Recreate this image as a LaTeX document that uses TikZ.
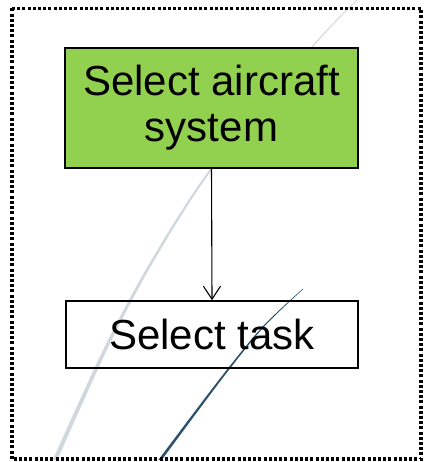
\documentclass[tikz,border=0pt]{standalone}
\usepackage{fontspec}
\setmainfont{Liberation Sans}
\usetikzlibrary{arrows.meta}
\definecolor{boxgreen}{RGB}{146,208,80}
\definecolor{swooshgray}{RGB}{208,216,220}
\definecolor{swooshblue}{RGB}{44,82,110}
\tikzset{
  stepbox/.style={draw=black, line width=1.5pt, align=center, inner sep=0pt,
    font=\fontsize{42}{46}\selectfont},
  flow/.style={-{Straight Barb[length=13pt,width=17pt]}, line width=1.1pt},
  frame/.style={draw=black, line width=3.2pt, dash pattern=on 3pt off 2.2pt}
}
\begin{document}
\begin{tikzpicture}[x=1pt, y=-1pt]
  \useasboundingbox (0,0) rectangle (423,462);

  % decorative tapered swooshes in the background
  \fill[swooshgray]
    plot[smooth] coordinates {(356.4,0) (311.2,47) (210.8,168) (148.5,265) (103.1,350) (52.7,460)}
    -- plot[smooth] coordinates {(57.3,460) (106.9,350) (151.5,265) (213.2,168) (312.8,47) (357.6,0)}
    -- cycle;
  \fill[swooshblue]
    plot[smooth] coordinates {(302.6,289) (262.2,327) (218.8,380) (158.3,460)}
    -- plot[smooth] coordinates {(161.7,460) (221.2,380) (263.8,327) (303.4,289)}
    -- cycle;

  % process steps
  \node[stepbox, fill=boxgreen, minimum width=293pt, minimum height=120pt]
    (sys) at (211.5,108) {Select aircraft\\system};
  \node[stepbox, minimum width=292pt, minimum height=67pt]
    (task) at (212,334.5) {Select task};

  \draw[flow] (sys.south) -- (task.north);

  % dotted frame
  \draw[frame] (12,8.5) rectangle (421,459);
\end{tikzpicture}
\end{document}
